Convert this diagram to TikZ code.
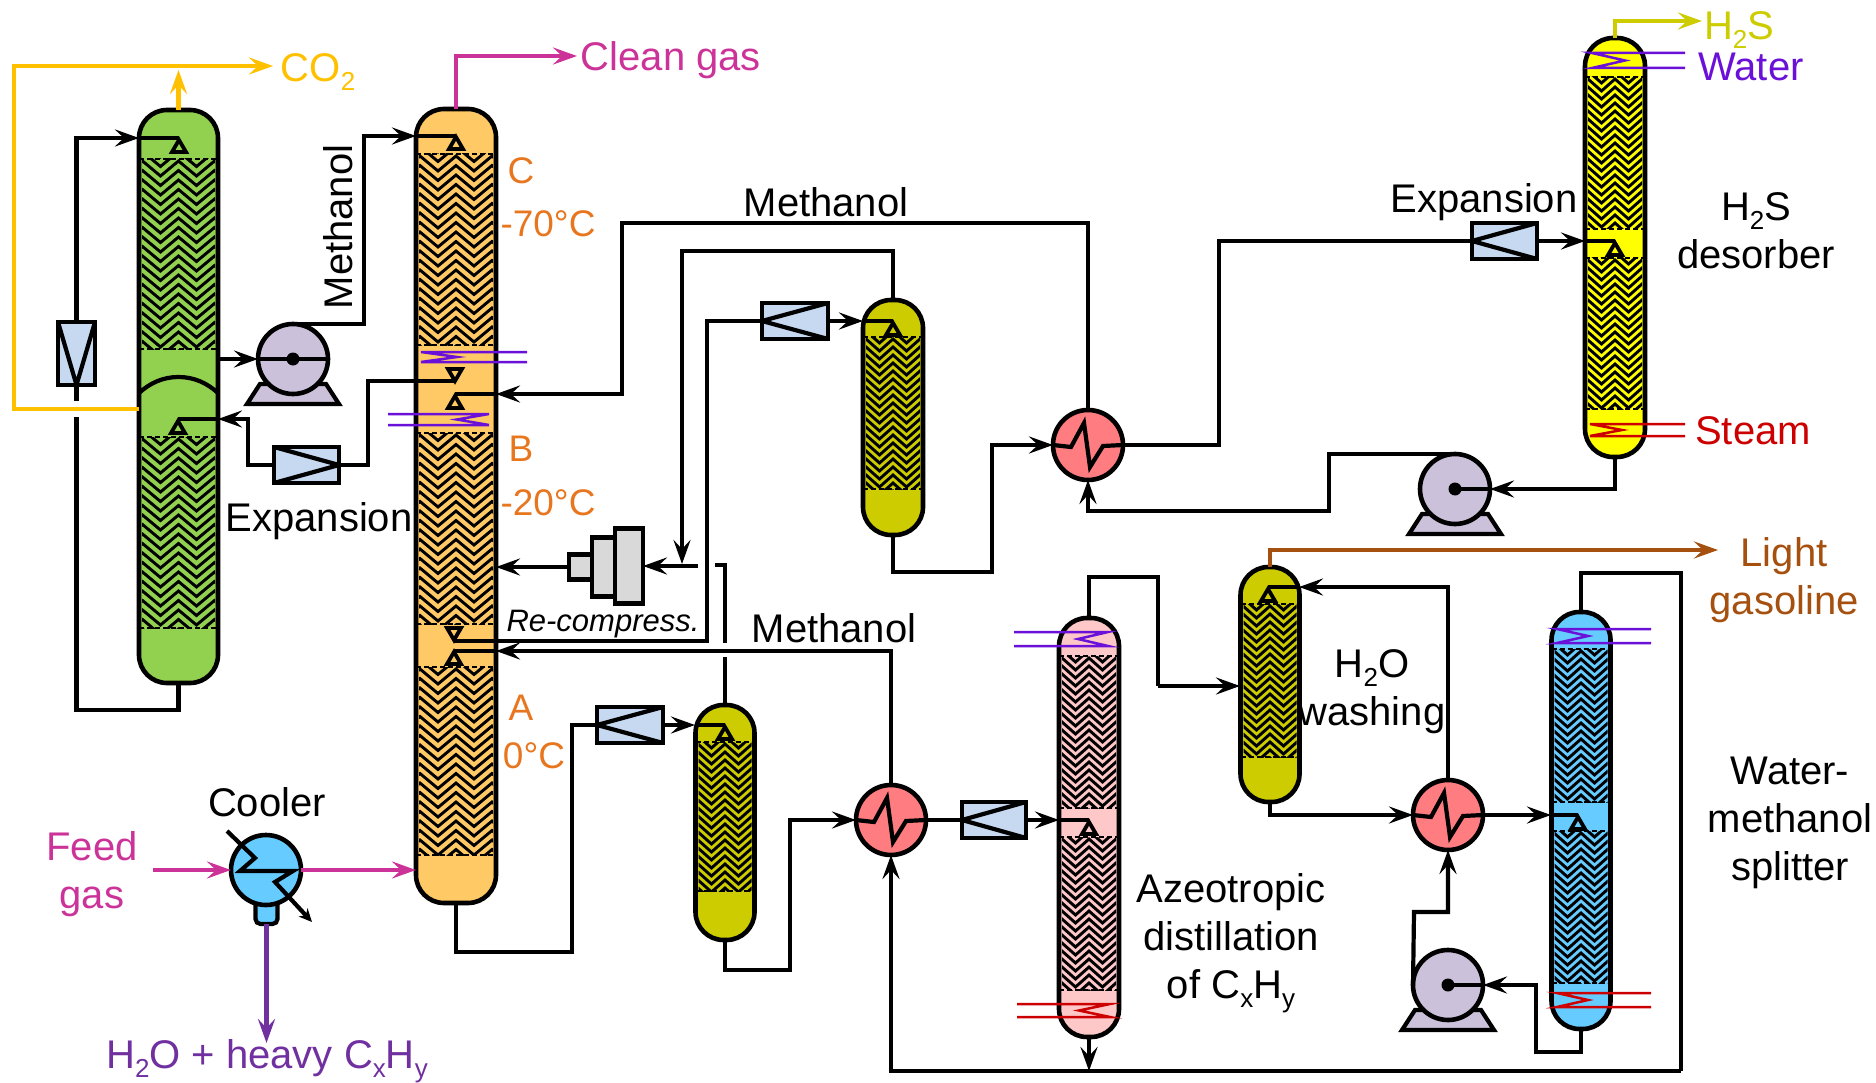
\documentclass[tikz,border=0pt]{standalone}
\usepackage{fontspec}
\setmainfont{Liberation Sans}
\usetikzlibrary{arrows.meta}
\definecolor{cGreen}{HTML}{92D050}
\definecolor{cOrange}{HTML}{FFC966}
\definecolor{cOlive}{HTML}{CCCC00}
\definecolor{cYellow}{HTML}{FFFF00}
\definecolor{cPink}{HTML}{FFC8C8}
\definecolor{cBlue}{HTML}{66CCFF}
\definecolor{cValve}{HTML}{C6D9F1}
\definecolor{cPump}{HTML}{CCC1DA}
\definecolor{cHx}{HTML}{FF7C80}
\definecolor{cComp}{HTML}{D9D9D9}
\definecolor{tOrange}{HTML}{E8761E}
\definecolor{tMagenta}{HTML}{CC3399}
\definecolor{tPurple}{HTML}{7030A0}
\definecolor{tViolet}{HTML}{6A10D8}
\definecolor{tRed}{HTML}{CC0000}
\definecolor{tBrown}{HTML}{A5500F}
\definecolor{tGold}{HTML}{FFC000}
\newcommand{\lowsub}[1]{\raisebox{-0.22em}{\fontsize{26}{26}\selectfont #1}}
\tikzset{
  x=1pt,y=-1pt,
  pipe/.style={line width=4.2pt,line join=miter},
  flow/.style={pipe,-{Stealth[length=24pt,width=17pt,inset=9pt]}},
  towerbox/.style={draw,line width=4.6pt,rounded corners=28pt,inner sep=0pt,outer sep=0pt},
  valvebox/.style={draw,line width=4.2pt,fill=cValve,inner sep=0pt,outer sep=0pt},
  compbox/.style={draw,line width=4.2pt,fill=cComp,inner sep=0pt,outer sep=0pt},
  unitcircle/.style={circle,draw,line width=4.6pt,minimum size=70pt,inner sep=0pt,outer sep=0pt},
  lbl/.style={font=\fontsize{40}{48}\selectfont,align=center,inner sep=0pt},
  tlbl/.style={font=\fontsize{37}{44}\selectfont,align=center,inner sep=0pt,text=tOrange},
  coilpen/.style={line width=2.5pt,line join=miter},
  distpen/.style={line width=3.8pt,line join=miter},
}
% name, cx, width, ytop, ybot: outline node
\newcommand{\tower}[5]{\node[towerbox,minimum width=#3pt,minimum height={(#5-#4)*1pt}] (#1) at ({#2},{(#4+#5)/2}) {};}
% cx, width, ytop, ybot, colour: the fill below the packing
\newcommand{\towerfill}[5]{\fill[#5,rounded corners=28pt] ({#1-#2/2},#3) rectangle ({#1+#2/2},#4);}
% cx, half width, ytop, ybot, period, spacing, amplitude
\newcommand{\packing}[7]{%
  \begin{scope}
    \clip ({#1-#2+3},#3) rectangle ({#1+#2-3},#4);
    \pgfmathtruncatemacro{\nlines}{(#4-#3+2*#7)/#6}
    \foreach \i in {0,...,\nlines}{
      \pgfmathsetmacro{\yy}{#3-#7-2+\i*#6}
      \pgfmathsetmacro{\yz}{\yy+#7}
      \draw[line width=2.9pt,line join=miter] ({#1-2*#5},\yy)
        -- ({#1-1.5*#5},\yz) -- ({#1-#5},\yy) -- ({#1-0.5*#5},\yz) -- ({#1},\yy)
        -- ({#1+0.5*#5},\yz) -- ({#1+#5},\yy) -- ({#1+1.5*#5},\yz) -- ({#1+2*#5},\yy);
    }
  \end{scope}
  \draw[line width=2.4pt,dash pattern=on 5pt off 3pt] ({#1-#2},#3) -- ({#1+#2},#3);
  \draw[line width=2.4pt,dash pattern=on 5pt off 3pt] ({#1-#2},#4) -- ({#1+#2},#4);
}
% colour, free end x, turn end x, tip x, y1, y2
\newcommand{\coil}[6]{\draw[coilpen,#1] (#2,#5) -- (#3,#5) -- (#4,{(#5+#6)/2}) -- (#3,#6) -- (#2,#6);}
\newcommand{\distup}[2]{\draw[distpen] (#1,#2) -- ({#1-7},{#2+12}) -- ({#1+7},{#2+12}) -- cycle;}
\newcommand{\distdown}[2]{\draw[distpen] (#1,#2) -- ({#1-7},{#2-12}) -- ({#1+7},{#2-12}) -- cycle;}
\newcommand{\pumpsym}[3]{%
  \draw[line width=4.2pt,fill=cPump,line join=miter] ({#2-46},{#3+45}) -- ({#2+46},{#3+45}) -- ({#2+33},{#3+25}) -- ({#2-33},{#3+25}) -- cycle;
  \node[unitcircle,fill=cPump] (#1) at (#2,#3) {};
  \fill (#1.center) circle (6.5);
  \draw[pipe] (#1.center) -- (#1.east);
}
\newcommand{\hxsym}[3]{%
  \node[unitcircle,fill=cHx] (#1) at (#2,#3) {};
  \draw[pipe,shift={(#2,#3)}] (-35,0) -- (-17,2) -- (-4,-22) -- (2,22) -- (15,1) -- (35,0);
}
\begin{document}
\begin{tikzpicture}
\useasboundingbox (0,0) rectangle (1876,1083);
% ---------- tower fills
\towerfill{178.5}{79}{110}{683}{cGreen}
\towerfill{456}{80}{109}{903}{cOrange}
\towerfill{893}{60}{300}{535}{cOlive}
\towerfill{725}{59}{705}{940}{cOlive}
\towerfill{1270}{59}{567}{802}{cOlive}
\towerfill{1615}{60}{38}{457}{cYellow}
\towerfill{1089}{60}{618}{1037}{cPink}
\towerfill{1581}{59}{612}{1029}{cBlue}
% ---------- packings
\packing{178.5}{39.5}{159}{349}{36}{9.5}{15}
\packing{178.5}{39.5}{437}{628}{36}{9.5}{15}
\packing{456}{40}{154}{345}{36}{9.5}{15}
\packing{456}{40}{433}{624}{36}{9.5}{15}
\packing{456}{40}{667}{855}{36}{9.5}{15}
\packing{893}{30}{337}{489}{27}{8}{12}
\packing{725}{29.5}{742}{891}{27}{8}{12}
\packing{1270}{29.5}{604}{757}{27}{8}{12}
\packing{1615}{30}{77}{229}{27}{8}{12}
\packing{1615}{30}{258}{409}{27}{8}{12}
\packing{1089}{30}{656}{808}{27}{8}{12}
\packing{1089}{30}{837}{990}{27}{8}{12}
\packing{1581}{29.5}{649}{802}{27}{8}{12}
\packing{1581}{29.5}{831}{983}{27}{8}{12}
% green tower dome
\draw[line width=4.2pt] (139,393) .. controls (150,383) and (163,377) .. (178.5,377) .. controls (194,377) and (207,383) .. (218,393);
% ---------- tower outlines
\tower{tGreenC}{178.5}{79}{110}{683}
\tower{tOrangeC}{456}{80}{109}{903}
\tower{tOliveA}{893}{60}{300}{535}
\tower{tOliveB}{725}{59}{705}{940}
\tower{tOliveC}{1270}{59}{567}{802}
\tower{tYellowC}{1615}{60}{38}{457}
\tower{tPinkC}{1089}{60}{618}{1037}
\tower{tBlueC}{1581}{59}{612}{1029}
% ---------- coils
\coil{tViolet}{527}{421}{457}{352}{362}
\coil{tViolet}{388}{489}{457}{414}{425}
\coil{tViolet}{1685}{1592}{1625}{53}{68}
\coil{tRed}{1685}{1590}{1622}{424}{436}
\coil{tViolet}{1014}{1108}{1078}{632}{646}
\coil{tRed}{1017}{1110}{1079}{1004}{1017}
\coil{tViolet}{1651}{1557}{1588}{629}{643}
\coil{tRed}{1651}{1557}{1588}{993}{1007}
% ---------- valves
\node[valvebox,minimum width=37pt,minimum height=63pt] (vV) at (76.5,353.5) {};
\node[valvebox,minimum width=65pt,minimum height=36pt] (vA) at (306.5,465) {};
\node[valvebox,minimum width=66pt,minimum height=36pt] (vB) at (795,321) {};
\node[valvebox,minimum width=65pt,minimum height=36pt] (vC) at (1504.5,241) {};
\node[valvebox,minimum width=66pt,minimum height=36pt] (vD) at (630,725) {};
\node[valvebox,minimum width=64pt,minimum height=36pt] (vE) at (994,820) {};
\draw[pipe] (vV.north west) -- (vV.south) -- (vV.north east);
\draw[pipe] (vA.north west) -- (vA.east) -- (vA.south west);
\draw[pipe] (vB.north east) -- (vB.west) -- (vB.south east);
\draw[pipe] (vC.north east) -- (vC.west) -- (vC.south east);
\draw[pipe] (vD.north east) -- (vD.west) -- (vD.south east);
\draw[pipe] (vE.north east) -- (vE.west) -- (vE.south east);
% ---------- compressor
\node[compbox,minimum width=23pt,minimum height=25pt] (cpA) at (580.5,567) {};
\node[compbox,minimum width=23pt,minimum height=59pt] (cpB) at (603.5,567) {};
\node[compbox,minimum width=28pt,minimum height=75pt] (cpC) at (629,566) {};
% ---------- pumps and exchangers
\pumpsym{pA}{293}{359}
\pumpsym{pB}{1455}{489}
\pumpsym{pC}{1448}{985}
\draw[pipe] (pA.center) -- (pA.west);
\hxsym{hA}{1088}{445}
\hxsym{hB}{891}{820}
\hxsym{hC}{1448}{815}
% cooler
\node[draw,line width=4.2pt,fill=cBlue,rounded corners=5pt,minimum width=22pt,minimum height=32pt,inner sep=0pt,outer sep=0pt] (coolCup) at (266.5,908) {};
\node[unitcircle,fill=cBlue] (cool) at (266,870) {};
\coordinate (coolIn) at (227,831);
\coordinate (coolOut) at (312,922);
\draw[pipe,-{Stealth[length=13pt,width=12pt,inset=4pt]}] (coolIn) -- (255,858) -- (240,871) -- (293,871) -- (275,882) -- (coolOut);
% ---------- distributor ends
\coordinate (gTopIn) at (139,138);      \coordinate (gTopD) at (179,138);
\coordinate (gMidIn) at (218,419);      \coordinate (gMidD) at (178,419);
\coordinate (oTopIn) at (416,136);      \coordinate (oTopD) at (456,136);
\coordinate (oBIn) at (496,394);        \coordinate (oBD) at (455,394);
\coordinate (oBup) at (455,381);
\coordinate (oAup) at (454,641);
\coordinate (oAIn) at (496,651);        \coordinate (oAD) at (454,651);
\coordinate (oCompIn) at (496,567);
\coordinate (oFeed) at (416,870);
\coordinate (aIn) at (863,321);         \coordinate (aD) at (893,321);
\coordinate (bIn) at (695,725);         \coordinate (bD) at (725,725);
\coordinate (yIn) at (1585,241);        \coordinate (yD) at (1615,241);
\coordinate (kIn) at (1059,820);        \coordinate (kD) at (1089,820);
\coordinate (cIn) at (1299,587);        \coordinate (cD) at (1268,587);
\coordinate (cSide) at (1240,686);
\coordinate (uIn) at (1551,815);        \coordinate (uD) at (1578,815);
\coordinate (gPumpOut) at (218,359);
\draw[pipe] (gTopIn) -- (gTopD);   \distup{179}{140}
\draw[pipe] (gMidIn) -- (gMidD);   \distup{178}{421}
\draw[pipe] (oTopIn) -- (oTopD);   \distup{456}{137}
\draw[pipe] (oBIn) -- (oBD);       \distup{455}{396}
\distdown{455}{381}
\draw[pipe] (oAIn) -- (oAD);       \distup{454}{652}
\distdown{454}{640}
\draw[pipe] (aIn) -- (aD);         \distup{893}{323}
\draw[pipe] (bIn) -- (bD);         \distup{725}{727}
\draw[pipe] (yIn) -- (yD);         \distup{1615}{243}
\draw[pipe] (kIn) -- (kD);         \distup{1089}{822}
\draw[pipe] (cIn) -- (cD);         \distup{1268}{589}
\draw[pipe] (uIn) -- (uD);         \distup{1578}{817}
% ---------- black connectors
\draw[flow] (vV.north) -- (76.5,138) -- (gTopIn);
\draw[pipe] (tGreenC.south) -- (178.5,710) -- (76.5,710) -- (76.5,417);
\draw[pipe] (76.5,401) -- (vV.south);
\draw[flow] (gPumpOut) -- (pA.west);
\draw[flow] (pA.north) -- (364,324) -- (364,136) -- (oTopIn);
\draw[pipe] (oBup) -- (368,381) -- (368,465) -- (vA.east);
\draw[flow] (vA.west) -- (248,465) -- (248,419) -- (gMidIn);
\draw[flow] (hA.north) -- (1088,223) -- (622,223) -- (622,394) -- (oBIn);
\draw[flow] (tOliveA.north) -- (893,251) -- (682,251) -- (682,564);
\draw[flow] (698,566) -- (cpC.east);
\draw[flow] (cpA.west) -- (oCompIn);
\draw[pipe] (715,565) -- (725,565) -- (725,643);
\draw[pipe] (725,657) -- (tOliveB.north);
\draw[flow] (vB.east) -- (aIn);
\draw[pipe] (oAup) -- (707,641) -- (707,321) -- (vB.west);
\draw[flow] (hB.north) -- (891,651) -- (oAIn);
\draw[pipe] (tOrangeC.south) -- (456,952) -- (572,952) -- (572,725) -- (vD.west);
\draw[flow] (vD.east) -- (bIn);
\draw[flow] (tOliveB.south) -- (725,970) -- (790,970) -- (790,820) -- (hB.west);
\draw[pipe] (hB.east) -- (vE.west);
\draw[flow] (vE.east) -- (kIn);
\draw[flow] (tOliveA.south) -- (893,572) -- (992,572) -- (992,445) -- (hA.west);
\draw[pipe] (hA.east) -- (1219,445) -- (1219,241) -- (vC.west);
\draw[flow] (vC.east) -- (yIn);
\draw[flow] (tYellowC.south) -- (1615,489) -- (pB.east);
\draw[flow] (pB.north) -- (1329,454) -- (1329,511) -- (1088,511) -- (hA.south);
\draw[flow] (tPinkC.south) -- (1089,1071);
\draw[flow] (1681,1071) -- (891,1071) -- (hB.south);
\draw[pipe] (tBlueC.north) -- (1581,573) -- (1681,573) -- (1681,1071);
\draw[pipe] (tPinkC.north) -- (1089,577) -- (1158,577) -- (1158,686);
\draw[flow] (1158,686) -- (cSide);
\draw[flow] (tOliveC.south) -- (1270,815) -- (hC.west);
\draw[flow] (hC.east) -- (uIn);
\draw[flow] (hC.north) -- (1448,587) -- (cIn);
\draw[flow] (tBlueC.south) -- (1581,1052) -- (1536,1052) -- (1536,985) -- (pC.east);
\draw[flow] (pC.west) -- (1414,912) -- (1448,912) -- (hC.south);
% ---------- coloured streams
\draw[flow,tGold] (tGreenC.west |- 0,409) -- (14,409) -- (14,66) -- (273,66);
\draw[flow,tGold] (tGreenC.north) -- (178.5,70);
\draw[flow,tMagenta] (tOrangeC.north) -- (456,56) -- (577,56);
\draw[flow,tMagenta] (153,870) -- (cool.west);
\draw[flow,tMagenta] (cool.east) -- (oFeed);
\draw[flow,tPurple] (coolCup.south) -- (266.5,1043);
\draw[flow,cOlive] (tYellowC.north) -- (1615,21) -- (1702,21);
\draw[flow,tBrown] (tOliveC.north) -- (1270,550) -- (1718,550);
% ---------- labels
\node[lbl,text=tGold] (lCO) at (318,72) {CO\lowsub{2}};
\node[lbl,text=tMagenta] (lClean) at (671,60) {Clean gas};
\node[lbl,text=cOlive] (lHS) at (1739,30) {H\lowsub{2}S};
\node[lbl,text=tViolet] (lWater) at (1751,67) {Water};
\node[lbl,text=tRed] (lSteam) at (1753,431) {Steam};
\node[lbl,text=tBrown] (lLight) at (1784,580) {Light\\gasoline};
\node[lbl,text=tMagenta] (lFeed) at (92,874) {Feed\\gas};
\node[lbl,text=tPurple] (lHeavy) at (267,1061) {H\lowsub{2}O + heavy C\lowsub{x}H\lowsub{y}};
\node[lbl] (lCool) at (267,802) {Cooler};
\node[lbl,rotate=90] (lMethA) at (338,227) {Methanol};
\node[lbl] (lMethB) at (826,202) {Methanol};
\node[lbl] (lMethC) at (834,628) {Methanol};
\node[lbl] (lExpA) at (319,521) {Expansion};
\node[lbl] (lExpB) at (1484,202) {Expansion};
\node[lbl,font=\fontsize{31}{34}\selectfont\itshape] (lRe) at (603,624) {Re-compress.};
\node[tlbl] (lC) at (521,171) {C};
\node[tlbl] (lT70) at (548,224) {-70°C};
\node[tlbl] (lB) at (521,449) {B};
\node[tlbl] (lT20) at (548,503) {-20°C};
\node[tlbl] (lA) at (521,708) {A};
\node[tlbl] (lT0) at (534,756) {0°C};
\node[lbl] (lDes) at (1756,231) {H\lowsub{2}S\\desorber};
\node[lbl] (lWash) at (1372,692) {H\lowsub{2}O\\washing};
\node[lbl] (lAz) at (1231,943) {Azeotropic\\distillation\\of C\lowsub{x}H\lowsub{y}};
\node[lbl] (lSplit) at (1790,823) {Water-\\methanol\\splitter};
\end{tikzpicture}
\end{document}
